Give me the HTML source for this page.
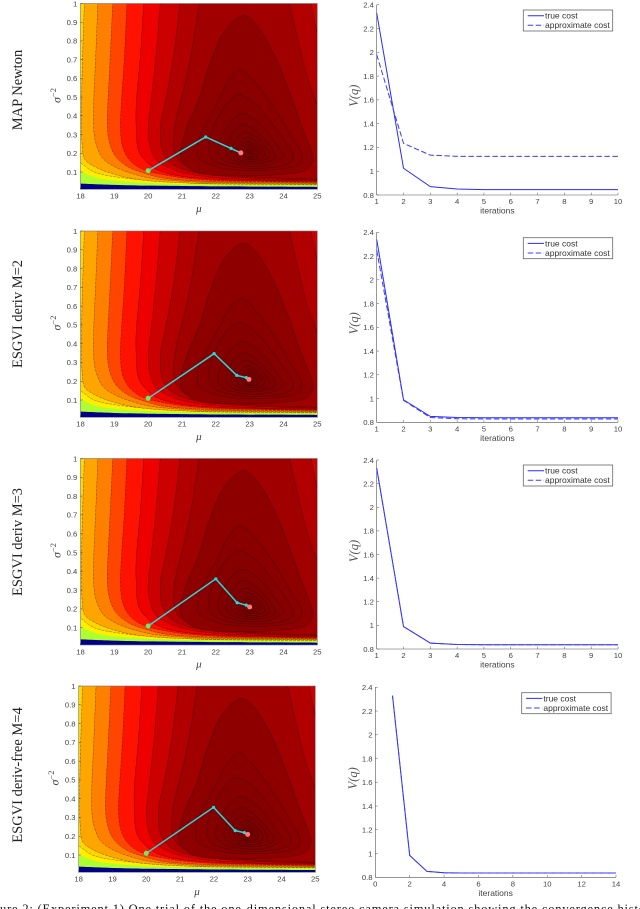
<!DOCTYPE html>
<html lang="en">
<head>
<meta charset="utf-8">
<title>ESGVI convergence figure</title>
<style>
html,body{margin:0;padding:0;background:#fff;width:640px;height:909px;overflow:hidden}
svg{display:block;filter:blur(0.35px)}
text{font-family:"Liberation Sans",sans-serif;fill:#444}
.tick{font-size:7.7px}
.serif{font-family:"Liberation Serif",serif;fill:#222}
.leg{font-size:8.5px;fill:#333}
</style>
</head>
<body>
<svg id="figure" xmlns="http://www.w3.org/2000/svg" width="640" height="909" viewBox="0 0 640 909">
  <defs id="defs"></defs>
  <text class="serif" font-size="14.5" text-anchor="middle" transform="translate(22,90) rotate(-90)">MAP Newton</text>
  <text class="serif" font-size="14.5" text-anchor="middle" transform="translate(22,314) rotate(-90)">ESGVI deriv M=2</text>
  <text class="serif" font-size="14.5" text-anchor="middle" transform="translate(22,542) rotate(-90)">ESGVI deriv M=3</text>
  <text class="serif" font-size="14.5" text-anchor="middle" transform="translate(22,775) rotate(-90)">ESGVI deriv-free M=4</text>
  <text class="serif" font-size="12.5" x="-19" y="913" textLength="676" style="fill:#111">Figure 2: (Experiment 1) One trial of the one-dimensional stereo camera simulation showing the convergence history</text>
</svg>
<script>
// ---------- chart data ----------
const muTicks = [18, 19, 20, 21, 22, 23, 24, 25];
const sigmaTicks = [0.1, 0.2, 0.3, 0.4, 0.5, 0.6, 0.7, 0.8, 0.9, 1];
const costTicks = [0.8, 1, 1.2, 1.4, 1.6, 1.8, 2, 2.2, 2.4];
const iterTicksShort = [1, 2, 3, 4, 5, 6, 7, 8, 9, 10];
const iterTicksLong = [0, 2, 4, 6, 8, 10, 12, 14];

const newtonTrueCost = [2.33, 1.025, 0.87, 0.85, 0.845, 0.845, 0.845, 0.845, 0.845, 0.845];
const newtonApproxCost = [1.98, 1.235, 1.135, 1.125, 1.125, 1.125, 1.125, 1.125, 1.125, 1.125];
const m2TrueCost = [2.34, 0.99, 0.85, 0.84, 0.838, 0.838, 0.838, 0.838, 0.838, 0.838];
const m2ApproxCost = [2.25, 0.985, 0.84, 0.83, 0.828, 0.828, 0.828, 0.828, 0.828, 0.828];
const m3TrueCost = [2.33, 0.99, 0.85, 0.838, 0.836, 0.836, 0.836, 0.836, 0.836, 0.836];
const m3ApproxCost = [2.33, 0.99, 0.85, 0.838, 0.836, 0.836, 0.836, 0.836, 0.836, 0.836];
const m4TrueCost = [2.33, 0.985, 0.85, 0.838, 0.836, 0.836, 0.836, 0.836, 0.836, 0.836, 0.836, 0.836, 0.836, 0.836];
const m4ApproxCost = [2.33, 0.985, 0.85, 0.838, 0.836, 0.836, 0.836, 0.836, 0.836, 0.836, 0.836, 0.836, 0.836, 0.836];

// optimiser iterates as [mu, sigma^-2]
const newtonPath = [[20, 0.107], [21.7, 0.287], [22.45, 0.226], [22.74, 0.202]];
const m2Path = [[20, 0.109], [21.95, 0.347], [22.62, 0.231], [22.9, 0.219], [22.98, 0.21]];
const m3Path = [[20, 0.109], [22, 0.36], [22.63, 0.233], [22.9, 0.22], [23, 0.21]];
const m4Path = [[20, 0.109], [21.99, 0.354], [22.63, 0.23], [22.9, 0.219], [23, 0.21]];

// cost-surface level curves, as [mu, sigma^-2], outermost first
const blueBoundary = [[17.8,0.04],[18,0.038],[19,0.031],[20,0.027],[22,0.023],[25.2,0.02],[25.3,0.02],[25.4,1.05],[17.8,1.05]];
const greenBoundary = [[17.8,0.12],[18,0.103],[18.52,0.067],[19.1,0.052],[19.9,0.042],[20.88,0.036],[22,0.032],[25.2,0.028],[25.3,0.028],[25.4,1.05],[17.8,1.05]];
const goldBoundary = [[17.8,0.17],[18,0.15],[18.4,0.1],[19,0.075],[20,0.055],[21,0.044],[22,0.036],[25.2,0.031],[25.3,0.031],[25.4,1.05],[17.8,1.05]];
const orangeBoundary = [[18.12,1.03],[18.06,0.7],[18.03,0.47],[18.03,0.33],[18.05,0.244],[18.12,0.17],[18.42,0.128],[18.9,0.093],[19.5,0.066],[20.1,0.052],[20.9,0.043],[22,0.038],[25.2,0.034],[25.3,0.034],[25.4,1.05]];
const darkOrangeBoundary = [[18.52,1.03],[18.45,0.72],[18.39,0.47],[18.39,0.33],[18.47,0.244],[18.66,0.173],[19.01,0.128],[19.5,0.093],[20.1,0.066],[20.9,0.052],[22,0.043],[25.2,0.037],[25.3,0.037],[25.4,1.05]];
const redOrangeBoundary = [[18.96,1.03],[18.88,0.72],[18.81,0.47],[18.79,0.37],[18.83,0.28],[19.01,0.19],[19.4,0.128],[19.9,0.093],[20.5,0.066],[21.4,0.052],[22.5,0.046],[25.2,0.04],[25.3,0.04],[25.4,1.05]];
const redBoundary = [[19.38,1.03],[19.3,0.72],[19.21,0.47],[19.18,0.33],[19.26,0.226],[19.5,0.155],[19.9,0.11],[20.5,0.084],[21.3,0.064],[22.5,0.052],[25.2,0.044],[25.3,0.044],[25.4,1.05]];
const brightCrimsonBoundary = [[19.88,1.03],[19.77,0.72],[19.65,0.47],[19.65,0.33],[19.7,0.226],[19.9,0.164],[20.3,0.11],[20.9,0.08],[21.8,0.063],[23,0.054],[25.2,0.048],[25.3,0.048],[25.4,1.05]];
const crimsonBoundary = [[20.37,1.03],[20.23,0.72],[20.08,0.47],[20,0.33],[20.05,0.244],[20.2,0.173],[20.55,0.128],[21.1,0.093],[22,0.07],[23.2,0.058],[25.2,0.052],[25.3,0.052],[25.4,1.05]];
const darkRedBoundary = [[20.96,1.03],[20.75,0.72],[20.5,0.47],[20.38,0.37],[20.36,0.28],[20.43,0.21],[20.68,0.146],[21.2,0.105],[22,0.082],[23.2,0.066],[25.2,0.056],[25.3,0.056],[25.4,0.5],[25,0.84],[24.78,1.03]];
const darkerRedBoundary = [[21.53,1.03],[21.29,0.748],[21.04,0.535],[20.84,0.394],[20.75,0.27],[20.84,0.18],[21.24,0.12],[22.03,0.09],[23.5,0.07],[25.2,0.06],[25.25,0.06],[25.3,0.3],[24.95,0.48],[24.64,0.645],[24.14,1.03]];
const openContours = [blueBoundary, greenBoundary, goldBoundary, orangeBoundary, darkOrangeBoundary, redOrangeBoundary, redBoundary, brightCrimsonBoundary, crimsonBoundary, darkRedBoundary, darkerRedBoundary];
const openContourColors = ['#adff2f','#ffee00','#ffd500','#ffa500','#ff7f00','#ff4500','#ff1200','#ee0000','#cd0000','#b20000','#a00000'];

const closedContours = [
  [[22.8,0.935],[23.31,0.858],[23.8,0.698],[24.19,0.522],[24.49,0.369],[24.83,0.208],[24.85,0.15],[24.49,0.1],[23.1,0.08],[21.6,0.09],[21,0.16],[21,0.25],[21.19,0.36],[21.5,0.49],[21.83,0.68],[22.22,0.841]],
  [[22.77,0.64],[23.25,0.56],[23.8,0.42],[24.2,0.3],[24.53,0.2],[24.45,0.14],[23.9,0.115],[23.1,0.107],[22.2,0.12],[21.55,0.165],[21.45,0.22],[21.55,0.3],[22.03,0.464],[22.4,0.59]],
  [[22.76,0.51],[23.3,0.44],[23.9,0.3],[24.29,0.19],[24.1,0.14],[23.4,0.12],[22.6,0.125],[21.95,0.16],[21.8,0.22],[21.85,0.3],[22.12,0.41],[22.45,0.49]],
  [[22.85,0.41],[23.4,0.34],[23.9,0.22],[24,0.18],[23.5,0.135],[22.8,0.135],[22.2,0.165],[22.05,0.22],[22.2,0.3],[22.5,0.38]],
  [[22.9,0.35],[23.35,0.29],[23.75,0.2],[23.7,0.165],[23.2,0.145],[22.6,0.155],[22.3,0.2],[22.4,0.27],[22.6,0.33]],
  [[22.93,0.31],[23.3,0.27],[23.58,0.2],[23.5,0.17],[23.1,0.155],[22.7,0.165],[22.45,0.205],[22.55,0.26],[22.7,0.295]],
  [[22.95,0.285],[23.25,0.25],[23.45,0.2],[23.35,0.175],[23,0.165],[22.7,0.18],[22.6,0.21],[22.7,0.25]],
  [[22.97,0.265],[23.2,0.24],[23.33,0.205],[23.2,0.18],[22.97,0.175],[22.78,0.19],[22.73,0.215],[22.82,0.245]],
  [[22.98,0.25],[23.13,0.23],[23.22,0.205],[23.1,0.187],[22.97,0.183],[22.85,0.195],[22.83,0.215],[22.88,0.235]],
  [[23,0.235],[23.1,0.22],[23.12,0.208],[23.03,0.195],[22.95,0.2],[22.92,0.215]],
  [[23,0.22],[23.06,0.21],[23,0.198],[22.96,0.208]]
];
const closedContourColors = ['#8e0000','#8a0000','#860000','#820000','#800000','#7e0000','#7c0000','#7a0000','#780000','#760000','#740000'];

const contourPanels = [
  {id:'newton', left:80.5, right:317.3, top:3.5, bottom:189.3, path:newtonPath},
  {id:'m2', left:80.5, right:317.3, top:231, bottom:417.3, path:m2Path},
  {id:'m3', left:80.5, right:317.3, top:458.5, bottom:645, path:m3Path},
  {id:'m4', left:78.7, right:315.3, top:686, bottom:872.3, path:m4Path}
];
const costPanels = [
  {id:'newton', left:376.7, right:618, top:4.7, bottom:195, xMin:1, xMax:10, ticks:iterTicksShort, trueCost:newtonTrueCost, approx:newtonApproxCost, legendX:523.3, legendY:10},
  {id:'m2', left:376.7, right:618, top:232.3, bottom:422.3, xMin:1, xMax:10, ticks:iterTicksShort, trueCost:m2TrueCost, approx:m2ApproxCost, legendX:523.3, legendY:237.7},
  {id:'m3', left:376.7, right:618, top:460, bottom:649, xMin:1, xMax:10, ticks:iterTicksShort, trueCost:m3TrueCost, approx:m3ApproxCost, legendX:523.3, legendY:465},
  {id:'m4', left:375.3, right:616, top:687.3, bottom:877.3, xMin:0, xMax:14, ticks:iterTicksLong, trueCost:m4TrueCost, approx:m4ApproxCost, legendX:521.7, legendY:692.7}
];

// ---------- drawing helpers ----------
const NS = 'http://www.w3.org/2000/svg';
const svg = document.getElementById('figure');
const defs = document.getElementById('defs');

function make(tag, parent, attrs) {
  const el = document.createElementNS(NS, tag);
  for (const k in attrs) el.setAttribute(k, attrs[k]);
  parent.appendChild(el);
  return el;
}
function linear(d0, d1, r0, r1) {
  return function (v) { return r0 + (v - d0) * (r1 - r0) / (d1 - d0); };
}
function smoothPath(points, closed) {
  const n = points.length;
  const at = function (i) {
    if (closed) return points[(i + n) % n];
    return points[Math.max(0, Math.min(n - 1, i))];
  };
  let d = 'M' + points[0][0].toFixed(2) + ' ' + points[0][1].toFixed(2);
  const segs = closed ? n : n - 1;
  for (let i = 0; i < segs; i++) {
    const p0 = at(i - 1), p1 = at(i), p2 = at(i + 1), p3 = at(i + 2);
    const c1x = p1[0] + (p2[0] - p0[0]) / 6, c1y = p1[1] + (p2[1] - p0[1]) / 6;
    const c2x = p2[0] - (p3[0] - p1[0]) / 6, c2y = p2[1] - (p3[1] - p1[1]) / 6;
    d += 'C' + c1x.toFixed(2) + ' ' + c1y.toFixed(2) + ' ' + c2x.toFixed(2) + ' ' + c2y.toFixed(2) + ' ' + p2[0].toFixed(2) + ' ' + p2[1].toFixed(2);
  }
  return d + 'Z';
}

// ---------- contour panels ----------
contourPanels.forEach(function (p) {
  const x = linear(18, 25, p.left, p.right);
  const y = linear(0.1, 1, p.bottom - 17.3, p.top);
  const g = make('g', svg, {});
  
  

  const clip = make('clipPath', defs, {id: 'clip-' + p.id});
  make('rect', clip, {x: p.left, y: p.top, width: p.right - p.left, height: p.bottom - p.top});
  const field = make('g', g, {'clip-path': 'url(#clip-' + p.id + ')'});
  
  

  const base = make('rect', field, {x: p.left, y: p.top, width: p.right - p.left, height: p.bottom - p.top, fill: '#00008b'});
  
  

  openContours.forEach(function (c, i) {
    const pts = c.map(function (q) { return [x(q[0]), y(q[1])]; });
    const band = make('path', field, {d: smoothPath(pts, false), fill: openContourColors[i], stroke: i < 2 ? 'none' : 'rgba(0,0,0,0.5)', 'stroke-width': 0.5, 'stroke-dasharray': i < 7 ? '3 1' : 'none'});
    
    
  });
  closedContours.forEach(function (c, i) {
    const pts = c.map(function (q) { return [x(q[0]), y(q[1])]; });
    const ring = make('path', field, {d: smoothPath(pts, true), fill: closedContourColors[i], stroke: 'rgba(0,0,0,0.5)', 'stroke-width': 0.5});
    
    
  });

  const frame = make('rect', g, {x: p.left, y: p.top, width: p.right - p.left, height: p.bottom - p.top, fill: 'none', stroke: '#777', 'stroke-width': 0.6});
  
  

  muTicks.forEach(function (t) {
    const mark = make('line', g, {x1: x(t), x2: x(t), y1: p.bottom, y2: p.bottom - 2, stroke: '#333', 'stroke-width': 0.5});
    
    
    const lab = make('text', g, {class: 'tick', x: x(t), y: p.bottom + 9.4, 'text-anchor': 'middle'});
    lab.textContent = String(t);
    
    
  });
  sigmaTicks.forEach(function (t) {
    const mark = make('line', g, {x1: p.left, x2: p.left + 2, y1: y(t), y2: y(t), stroke: '#333', 'stroke-width': 0.5});
    
    
    const lab = make('text', g, {class: 'tick', x: p.left - 3.2, y: y(t) + 2.8, 'text-anchor': 'end'});
    lab.textContent = String(t);
    
    
  });

  const xt = make('text', g, {class: 'serif', x: (p.left + p.right) / 2, y: p.bottom + 22.5, 'text-anchor': 'middle', 'font-size': 11, 'font-style': 'italic', style: 'fill:#444'});
  xt.textContent = 'μ';
  
  

  const yt = make('text', g, {class: 'serif', 'font-size': 12, 'text-anchor': 'middle', style: 'fill:#444', transform: 'translate(' + (p.left - 20) + ',' + (p.top + 92) + ') rotate(-90)'});
  
  
  const sig = make('tspan', yt, {'font-style': 'italic'});
  sig.textContent = 'σ';
  const sup = make('tspan', yt, {dy: -4.5, 'font-size': 8.5});
  sup.textContent = '−2';

  const traj = make('polyline', g, {points: p.path.map(function (q) { return x(q[0]) + ',' + y(q[1]); }).join(' '), fill: 'none', stroke: '#1fdede', 'stroke-width': 1.5});
  
  
  p.path.forEach(function (q, i) {
    const last = i === p.path.length - 1;
    const col = i === 0 ? '#66ee66' : last ? '#ff7a7a' : '#1fdede';
    const dot = make('circle', g, {cx: x(q[0]), cy: y(q[1]), r: (i === 0 || last) ? 2.5 : 1.6, fill: col});
    
    
  });
});

// ---------- cost panels ----------
costPanels.forEach(function (p) {
  const x = linear(p.xMin, p.xMax, p.left, p.right);
  const y = linear(0.8, 2.4, p.bottom, p.top);
  const g = make('g', svg, {});
  
  

  const xAxis = make('line', g, {x1: p.left, x2: p.right, y1: p.bottom, y2: p.bottom, stroke: '#555', 'stroke-width': 0.6});
  
  
  const yAxis = make('line', g, {x1: p.left, x2: p.left, y1: p.top, y2: p.bottom, stroke: '#555', 'stroke-width': 0.6});
  
  

  p.ticks.forEach(function (t) {
    const mark = make('line', g, {x1: x(t), x2: x(t), y1: p.bottom, y2: p.bottom - 2.4, stroke: '#555', 'stroke-width': 0.5});
    
    
    const lab = make('text', g, {class: 'tick', x: x(t), y: p.bottom + 9, 'text-anchor': 'middle'});
    lab.textContent = String(t);
    
    
  });
  costTicks.forEach(function (t) {
    const mark = make('line', g, {x1: p.left, x2: p.left + 2.4, y1: y(t), y2: y(t), stroke: '#555', 'stroke-width': 0.5});
    
    
    const lab = make('text', g, {class: 'tick', x: p.left - 2.8, y: y(t) + 2.8, 'text-anchor': 'end'});
    lab.textContent = String(t);
    
    
  });

  const xt = make('text', g, {x: (p.left + p.right) / 2, y: p.bottom + 18.6, 'text-anchor': 'middle', 'font-size': 8.5});
  xt.textContent = 'iterations';
  
  

  const yt = make('text', g, {class: 'serif', 'font-size': 12.5, 'font-style': 'italic', 'text-anchor': 'middle', style: 'fill:#555', transform: 'translate(' + (p.left - 18.5) + ',' + (p.top + 91) + ') rotate(-90)'});
  yt.textContent = 'V(q)';
  
  

  const toPoints = function (vals) {
    return vals.map(function (v, i) { return x(i + 1) + ',' + y(v); }).join(' ');
  };
  const trueLine = make('polyline', g, {points: toPoints(p.trueCost), fill: 'none', stroke: '#2a2aff', 'stroke-width': 1});
  
  
  const approxLine = make('polyline', g, {points: toPoints(p.approx), fill: 'none', stroke: '#3c3cff', 'stroke-width': 1, 'stroke-dasharray': '5.5 2.5'});
  
  

  const lg = make('g', g, {});
  
  
  const box = make('rect', lg, {x: p.legendX, y: p.legendY, width: 89.4, height: 21, fill: '#fff', stroke: '#666', 'stroke-width': 0.8});
  
  
  const s1 = make('line', lg, {x1: p.legendX + 4.4, x2: p.legendX + 20.7, y1: p.legendY + 5.7, y2: p.legendY + 5.7, stroke: '#2a2aff', 'stroke-width': 1});
  
  
  const s2 = make('line', lg, {x1: p.legendX + 4.4, x2: p.legendX + 20.7, y1: p.legendY + 15.3, y2: p.legendY + 15.3, stroke: '#3c3cff', 'stroke-width': 1, 'stroke-dasharray': '5.5 2.5'});
  
  
  const t1 = make('text', lg, {class: 'leg', x: p.legendX + 21.7, y: p.legendY + 8.6});
  t1.textContent = 'true cost';
  
  
  const t2 = make('text', lg, {class: 'leg', x: p.legendX + 21.7, y: p.legendY + 18.2});
  t2.textContent = 'approximate cost';
  
  
});
</script>
</body>
</html>
